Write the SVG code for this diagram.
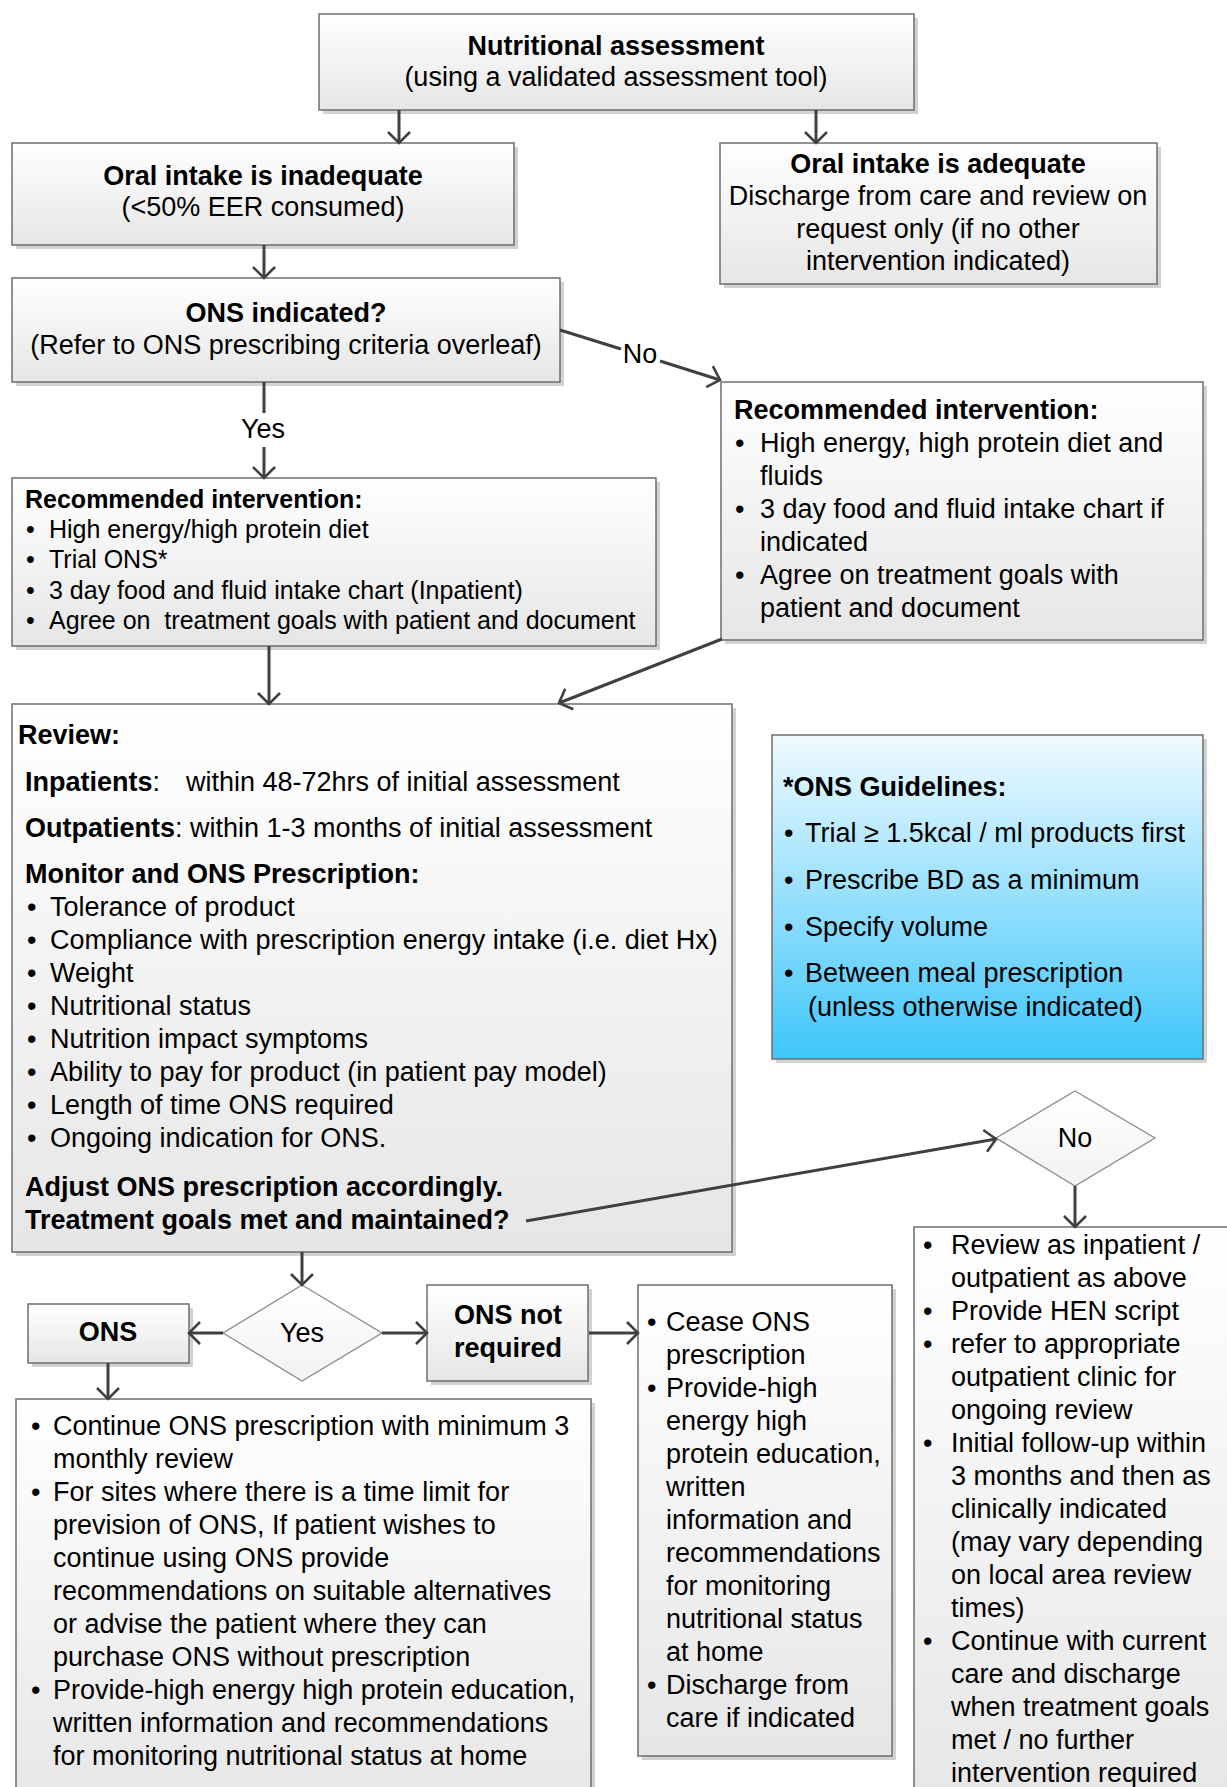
<svg xmlns="http://www.w3.org/2000/svg" width="1227" height="1787" viewBox="0 0 1227 1787">
<style>
.box{fill:url(#gg);stroke:#6e6e6e;stroke-width:1.5}
.blue{fill:url(#gb);stroke:#6e6e6e;stroke-width:1.5}
.sh{fill:#d2d2d2}
.dia{fill:url(#gd);stroke:#8a8a8a;stroke-width:1.3}
.t{font-family:"Liberation Sans",Arial,sans-serif;font-size:27px;fill:#000}
.s{font-size:25px}
.b{font-weight:bold}
.c{text-anchor:middle}
.conn{stroke:#404040;stroke-width:3;fill:none}
.arr{marker-end:url(#ah)}
</style>
<defs>
<linearGradient id="gg" x1="0" y1="0" x2="0" y2="1"><stop offset="0" stop-color="#ffffff"/><stop offset="1" stop-color="#e6e6e6"/></linearGradient>
<linearGradient id="gb" x1="0" y1="0" x2="0" y2="1"><stop offset="0" stop-color="#f0faff"/><stop offset="1" stop-color="#3ec6fa"/></linearGradient>
<linearGradient id="gd" x1="0" y1="0" x2="0" y2="1"><stop offset="0" stop-color="#ffffff"/><stop offset="1" stop-color="#f2f2f2"/></linearGradient>
<marker id="ah" viewBox="0 0 14 24" refX="12" refY="12" markerWidth="14" markerHeight="24" orient="auto" markerUnits="userSpaceOnUse"><path d="M1,1 L12,12 L1,23" fill="none" stroke="#404040" stroke-width="2.6"/></marker>
</defs>
<rect width="1227" height="1787" fill="#ffffff"/>

<g id="n-assess">
<rect class="sh" x="323" y="18" width="595" height="96"/>
<rect class="box" x="319" y="14" width="595" height="96"/>
<text class="t b c" x="616" y="55">Nutritional assessment</text>
<text class="t c" x="616" y="86">(using a validated assessment tool)</text>
</g>

<g id="n-inadequate">
<rect class="sh" x="16" y="147" width="502" height="102"/>
<rect class="box" x="12" y="143" width="502" height="102"/>
<text class="t b c" x="263" y="185">Oral intake is inadequate</text>
<text class="t c" x="263" y="216">(&lt;50% EER consumed)</text>
</g>

<g id="n-adequate">
<rect class="sh" x="724" y="147" width="437" height="141"/>
<rect class="box" x="720" y="143" width="437" height="141"/>
<text class="t b c" x="938" y="173">Oral intake is adequate</text>
<text class="t c" x="938" y="205">Discharge from care and review on</text>
<text class="t c" x="938" y="238">request only (if no other</text>
<text class="t c" x="938" y="270">intervention indicated)</text>
</g>

<g id="n-onsind">
<rect class="sh" x="16" y="282" width="548" height="104"/>
<rect class="box" x="12" y="278" width="548" height="104"/>
<text class="t b c" x="286" y="322">ONS indicated?</text>
<text class="t c" x="286" y="354">(Refer to ONS prescribing criteria overleaf)</text>
</g>

<g id="n-rec-right">
<rect class="sh" x="725" y="386" width="482" height="258"/>
<rect class="box" x="721" y="382" width="482" height="258"/>
<text class="t b" x="734" y="419">Recommended intervention:</text>
<text class="t" x="735" y="452">•</text><text class="t" x="760" y="452">High energy, high protein diet and</text>
<text class="t" x="760" y="485">fluids</text>
<text class="t" x="735" y="518">•</text><text class="t" x="760" y="518">3 day food and fluid intake chart if</text>
<text class="t" x="760" y="551">indicated</text>
<text class="t" x="735" y="584">•</text><text class="t" x="760" y="584">Agree on treatment goals with</text>
<text class="t" x="760" y="617">patient and document</text>
</g>

<g id="n-rec-left">
<rect class="sh" x="16" y="482" width="644" height="168"/>
<rect class="box" x="12" y="478" width="644" height="168"/>
<text class="t s b" x="25" y="508">Recommended intervention:</text>
<text class="t s" x="26" y="538">•</text><text class="t s" x="49" y="538">High energy/high protein diet</text>
<text class="t s" x="26" y="568">•</text><text class="t s" x="49" y="568">Trial ONS*</text>
<text class="t s" x="26" y="599">•</text><text class="t s" x="49" y="599">3 day food and fluid intake chart (Inpatient)</text>
<text class="t s" x="26" y="629">•</text><text class="t s" x="49" y="629" xml:space="preserve">Agree on  treatment goals with patient and document</text>
</g>

<g id="n-review">
<rect class="sh" x="16" y="708" width="720" height="548"/>
<rect class="box" x="12" y="704" width="720" height="548"/>
<text class="t b" x="18" y="744">Review:</text>
<text class="t" x="25" y="791"><tspan class="b">Inpatients</tspan>:</text>
<text class="t" x="186" y="791">within 48-72hrs of initial assessment</text>
<text class="t" x="25" y="837"><tspan class="b">Outpatients</tspan>: within 1-3 months of initial assessment</text>
<text class="t b" x="25" y="883">Monitor and ONS Prescription:</text>
<text class="t" x="27" y="916">•</text><text class="t" x="50" y="916">Tolerance of product</text>
<text class="t" x="27" y="949">•</text><text class="t" x="50" y="949">Compliance with prescription energy intake (i.e. diet Hx)</text>
<text class="t" x="27" y="982">•</text><text class="t" x="50" y="982">Weight</text>
<text class="t" x="27" y="1015">•</text><text class="t" x="50" y="1015">Nutritional status</text>
<text class="t" x="27" y="1048">•</text><text class="t" x="50" y="1048">Nutrition impact symptoms</text>
<text class="t" x="27" y="1081">•</text><text class="t" x="50" y="1081">Ability to pay for product (in patient pay model)</text>
<text class="t" x="27" y="1114">•</text><text class="t" x="50" y="1114">Length of time ONS required</text>
<text class="t" x="27" y="1147">•</text><text class="t" x="50" y="1147">Ongoing indication for ONS.</text>
<text class="t b" x="25" y="1196">Adjust ONS prescription accordingly.</text>
<text class="t b" x="25" y="1229">Treatment goals met and maintained?</text>
</g>

<g id="n-guidelines">
<rect class="sh" x="776" y="739" width="431" height="324"/>
<rect class="blue" x="772" y="735" width="431" height="324"/>
<text class="t b" x="783" y="796">*ONS Guidelines:</text>
<text class="t" x="784" y="842">•</text><text class="t" x="805" y="842">Trial ≥ 1.5kcal / ml products first</text>
<text class="t" x="784" y="889">•</text><text class="t" x="805" y="889">Prescribe BD as a minimum</text>
<text class="t" x="784" y="936">•</text><text class="t" x="805" y="936">Specify volume</text>
<text class="t" x="784" y="982">•</text><text class="t" x="805" y="982">Between meal prescription</text>
<text class="t" x="808" y="1016">(unless otherwise indicated)</text>
</g>

<g id="n-no">
<polygon class="dia" points="1075,1091 1155,1138 1075,1186 996,1138"/>
<text class="t c" x="1075" y="1147">No</text>
</g>

<g id="n-no-actions">
<rect class="sh" x="918" y="1231" width="320" height="580"/>
<rect class="box" x="914" y="1227" width="320" height="580"/>
<text class="t" x="923" y="1254">•</text><text class="t" x="951" y="1254">Review as inpatient /</text>
<text class="t" x="951" y="1287">outpatient as above</text>
<text class="t" x="923" y="1320">•</text><text class="t" x="951" y="1320">Provide HEN script</text>
<text class="t" x="923" y="1353">•</text><text class="t" x="951" y="1353">refer to appropriate</text>
<text class="t" x="951" y="1386">outpatient clinic for</text>
<text class="t" x="951" y="1419">ongoing review</text>
<text class="t" x="923" y="1452">•</text><text class="t" x="951" y="1452">Initial follow-up within</text>
<text class="t" x="951" y="1485">3 months and then as</text>
<text class="t" x="951" y="1518">clinically indicated</text>
<text class="t" x="951" y="1551">(may vary depending</text>
<text class="t" x="951" y="1584">on local area review</text>
<text class="t" x="951" y="1617">times)</text>
<text class="t" x="923" y="1650">•</text><text class="t" x="951" y="1650">Continue with current</text>
<text class="t" x="951" y="1683">care and discharge</text>
<text class="t" x="951" y="1716">when treatment goals</text>
<text class="t" x="951" y="1749">met / no further</text>
<text class="t" x="951" y="1782">intervention required</text>
</g>

<g id="n-yes">
<polygon class="dia" points="302,1285 382,1333 302,1381 223,1333"/>
<text class="t c" x="302" y="1342">Yes</text>
</g>

<g id="n-ons">
<rect class="sh" x="32" y="1308" width="161" height="59"/>
<rect class="box" x="28" y="1304" width="161" height="59"/>
<text class="t b c" x="108" y="1341">ONS</text>
</g>

<g id="n-notreq">
<rect class="sh" x="431" y="1289" width="161" height="96"/>
<rect class="box" x="427" y="1285" width="161" height="96"/>
<text class="t b c" x="508" y="1324">ONS not</text>
<text class="t b c" x="508" y="1357">required</text>
</g>

<g id="n-cease">
<rect class="sh" x="642" y="1289" width="254" height="471"/>
<rect class="box" x="638" y="1285" width="254" height="471"/>
<text class="t" x="647" y="1331">•</text><text class="t" x="666" y="1331">Cease ONS</text>
<text class="t" x="666" y="1364">prescription</text>
<text class="t" x="647" y="1397">•</text><text class="t" x="666" y="1397">Provide-high</text>
<text class="t" x="666" y="1430">energy high</text>
<text class="t" x="666" y="1463">protein education,</text>
<text class="t" x="666" y="1496">written</text>
<text class="t" x="666" y="1529">information and</text>
<text class="t" x="666" y="1562">recommendations</text>
<text class="t" x="666" y="1595">for monitoring</text>
<text class="t" x="666" y="1628">nutritional status</text>
<text class="t" x="666" y="1661">at home</text>
<text class="t" x="647" y="1694">•</text><text class="t" x="666" y="1694">Discharge from</text>
<text class="t" x="666" y="1727">care if indicated</text>
</g>

<g id="n-continue">
<rect class="sh" x="20" y="1403" width="575" height="420"/>
<rect class="box" x="16" y="1399" width="575" height="420"/>
<text class="t" x="31" y="1435">•</text><text class="t" x="53" y="1435">Continue ONS prescription with minimum 3</text>
<text class="t" x="53" y="1468">monthly review</text>
<text class="t" x="31" y="1501">•</text><text class="t" x="53" y="1501">For sites where there is a time limit for</text>
<text class="t" x="53" y="1534">prevision of ONS, If patient wishes to</text>
<text class="t" x="53" y="1567">continue using ONS provide</text>
<text class="t" x="53" y="1600">recommendations on suitable alternatives</text>
<text class="t" x="53" y="1633">or advise the patient where they can</text>
<text class="t" x="53" y="1666">purchase ONS without prescription</text>
<text class="t" x="31" y="1699">•</text><text class="t" x="53" y="1699">Provide-high energy high protein education,</text>
<text class="t" x="53" y="1732">written information and recommendations</text>
<text class="t" x="53" y="1765">for monitoring nutritional status at home</text>
</g>

<g id="connectors">
<path class="conn arr" d="M399,110 V143"/>
<path class="conn arr" d="M816,110 V143"/>
<path class="conn arr" d="M264,245 V278"/>
<path class="conn" d="M560,330 L621,349"/>
<path class="conn arr" d="M660,361 L720,380"/>
<text class="t c" x="640" y="363">No</text>
<path class="conn" d="M264,382 V413"/>
<path class="conn arr" d="M264,447 V478"/>
<text class="t c" x="263" y="438">Yes</text>
<path class="conn arr" d="M269,646 V704"/>
<path class="conn arr" d="M722,639 L559,703"/>
<path class="conn arr" d="M526,1221 L996,1139"/>
<path class="conn arr" d="M1075,1186 V1227"/>
<path class="conn arr" d="M302,1252 V1285"/>
<path class="conn arr" d="M223,1333 H189"/>
<path class="conn arr" d="M382,1333 H427"/>
<path class="conn arr" d="M589,1333 H638"/>
<path class="conn arr" d="M108,1363 V1399"/>
</g>
</svg>
